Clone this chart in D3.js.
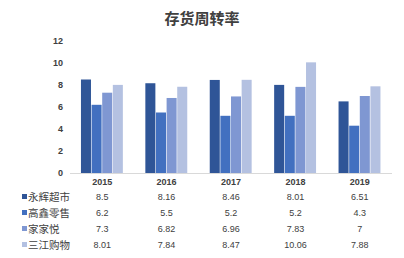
<!DOCTYPE html>
<html>
<head>
<meta charset="utf-8">
<script src="https://cdn.jsdelivr.net/npm/d3@7"></script>
<style>
  body { margin: 0; background: #fff; }
  svg { display: block; font-family: "Noto Sans CJK SC", "Liberation Sans", sans-serif; }
  .num { font-family: "Liberation Sans", "Noto Sans", sans-serif; }
</style>
</head>
<body>
<svg class="chart"></svg>
<script>
var years = ["2015", "2016", "2017", "2018", "2019"];
var seriesNames = ["永辉超市", "高鑫零售", "家家悦", "三江购物"];
var yonghui = [8.5, 8.16, 8.46, 8.01, 6.51];
var gaoxin = [6.2, 5.5, 5.2, 5.2, 4.3];
var jiajiayue = [7.3, 6.82, 6.96, 7.83, 7];
var sanjiang = [8.01, 7.84, 8.47, 10.06, 7.88];
var valueLabels = [
  ["8.5", "8.16", "8.46", "8.01", "6.51"],
  ["6.2", "5.5", "5.2", "5.2", "4.3"],
  ["7.3", "6.82", "6.96", "7.83", "7"],
  ["8.01", "7.84", "8.47", "10.06", "7.88"]
];
var yTicks = [0, 2, 4, 6, 8, 10, 12];
var colors = ["#2F5597", "#4270C0", "#7F97D2", "#B4C1E1"];

var series = [yonghui, gaoxin, jiajiayue, sanjiang];

var width = 404, height = 258;
var plotLeft = 70, plotRight = 392, plotTop = 41, plotBottom = 173;

var svg = d3.select(".chart").attr("width", width).attr("height", height);

var x = d3.scaleBand().domain(years).range([plotLeft, plotRight]).paddingInner(0.34).paddingOuter(0.17);
var x1 = d3.scaleBand().domain(d3.range(seriesNames.length)).range([0, x.bandwidth()]);
var y = d3.scaleLinear().domain([0, 12]).range([plotBottom, plotTop]);

// title
svg.append("text")
   .attr("x", 202).attr("y", 24)
   .attr("text-anchor", "middle")
   .attr("font-size", 15).attr("font-weight", "bold")
   .attr("fill", "#404040")
   .text("存货周转率");

// y tick labels
svg.selectAll(".ytick").data(yTicks).enter().append("text")
   .attr("class", "ytick num")
   .attr("x", 63).attr("y", function(d) { return y(d); })
   .attr("dy", "0.35em")
   .attr("text-anchor", "end")
   .attr("font-size", 9).attr("font-weight", "bold")
   .attr("fill", "#404040")
   .text(function(d) { return d; });

// bars
var groups = svg.selectAll(".grp").data(years).enter().append("g")
   .attr("transform", function(d) { return "translate(" + x(d) + ",0)"; });

groups.selectAll("rect")
   .data(function(d, i) { return series.map(function(s, j) { return {k: j, v: s[i]}; }); })
   .enter().append("rect")
   .attr("x", function(d) { return x1(d.k); })
   .attr("width", x1.bandwidth() - 0.6)
   .attr("y", function(d) { return y(d.v); })
   .attr("height", function(d) { return plotBottom - y(d.v); })
   .attr("fill", function(d) { return colors[d.k]; });

// axis line
svg.append("line")
   .attr("x1", plotLeft).attr("x2", plotRight)
   .attr("y1", plotBottom + 0.5).attr("y2", plotBottom + 0.5)
   .attr("stroke", "#d9d9d9").attr("stroke-width", 1);

// year labels
svg.selectAll(".year").data(years).enter().append("text")
   .attr("class", "num")
   .attr("x", function(d) { return x(d) + x.bandwidth() / 2; })
   .attr("y", 182).attr("dy", "0.35em")
   .attr("text-anchor", "middle")
   .attr("font-size", 9).attr("font-weight", "bold")
   .attr("fill", "#404040")
   .text(function(d) { return d; });

// data table rows
var rowY = [197, 213, 229, 245];
seriesNames.forEach(function(name, i) {
  svg.append("rect")
     .attr("x", 22).attr("y", rowY[i] - 3)
     .attr("width", 5).attr("height", 5)
     .attr("fill", colors[i]);
  svg.append("text")
     .attr("x", 28).attr("y", rowY[i]).attr("dy", "0.35em")
     .attr("font-size", 10.5)
     .attr("fill", "#404040")
     .text(name);
  years.forEach(function(yr, k) {
    svg.append("text")
       .attr("class", "num")
       .attr("x", x(yr) + x.bandwidth() / 2)
       .attr("y", rowY[i]).attr("dy", "0.35em")
       .attr("text-anchor", "middle")
       .attr("font-size", 9)
       .attr("fill", "#404040")
       .text(valueLabels[i][k]);
  });
});
</script>
</body>
</html>
